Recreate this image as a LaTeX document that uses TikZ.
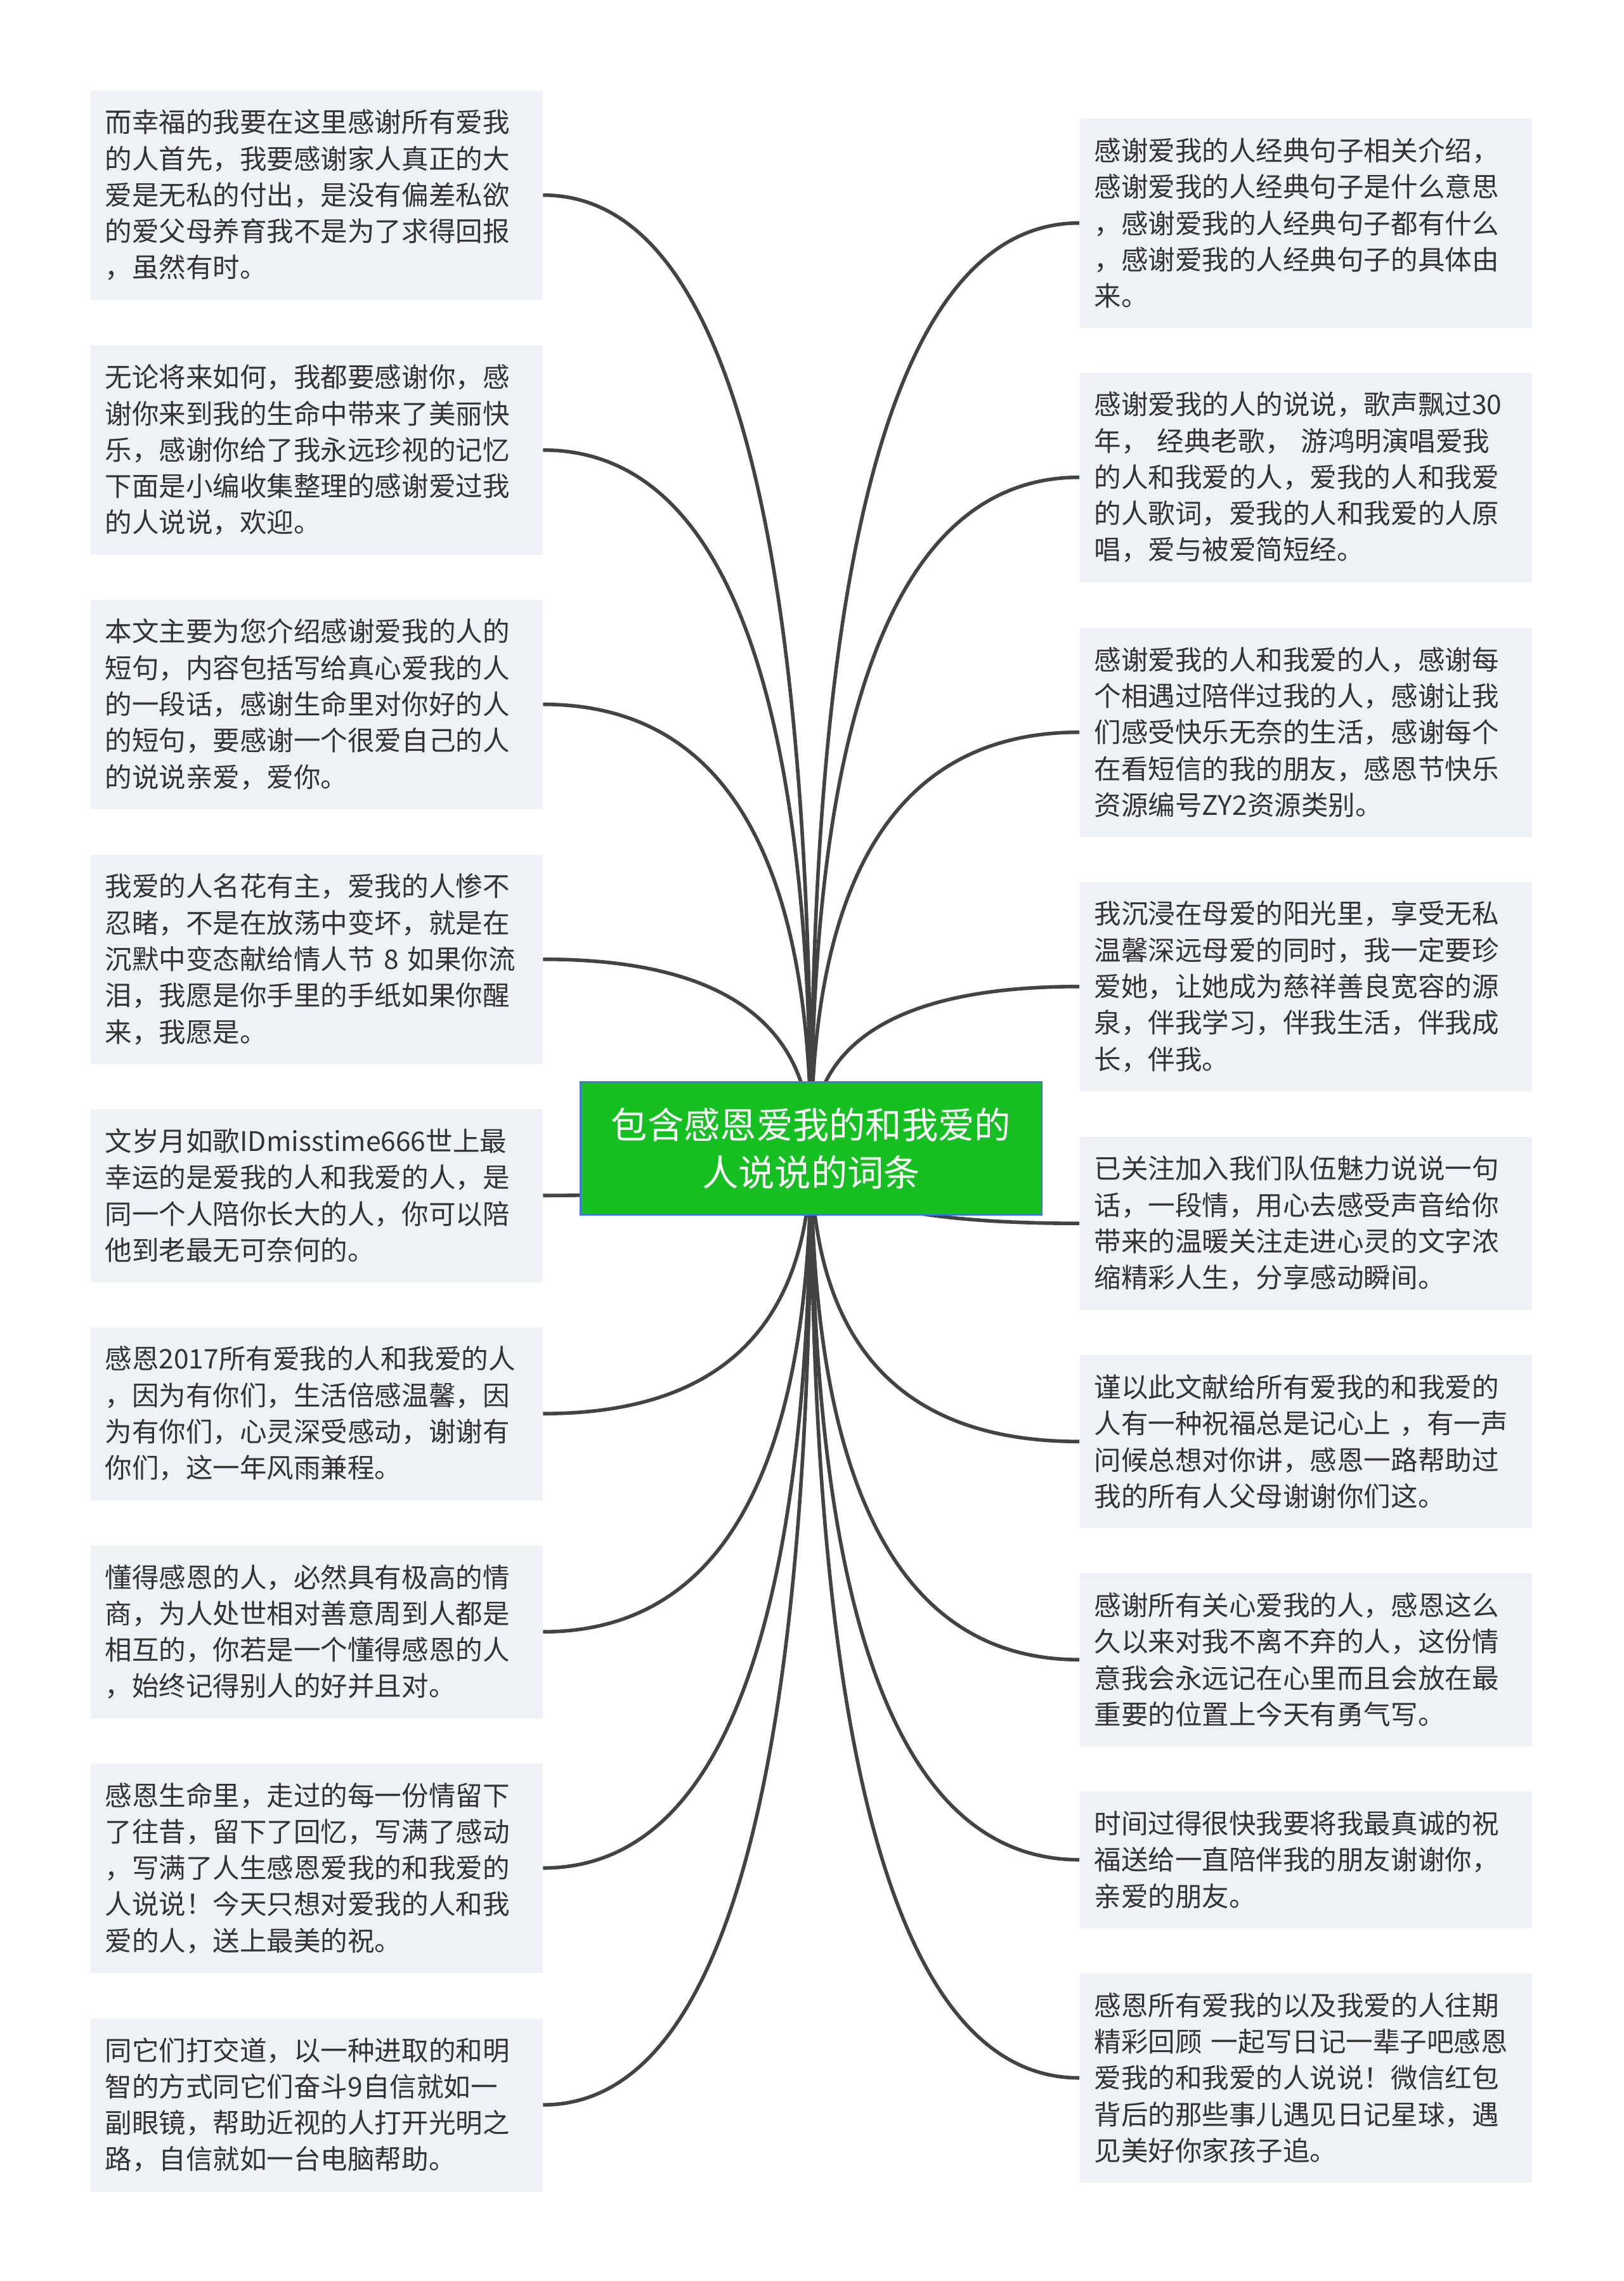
\documentclass[tikz,border=0pt]{standalone}
\usepackage{fontspec}
\setmainfont{Noto Sans CJK SC}
\usepackage{tikz}
\usetikzlibrary{backgrounds,calc}
\definecolor{rootgreen}{RGB}{22,192,34}
\definecolor{rootedge}{RGB}{60,125,210}
\definecolor{leafgray}{RGB}{238,241,245}
\definecolor{inkgray}{RGB}{51,51,51}
\definecolor{linkgray}{RGB}{66,68,66}
\tikzset{
    root/.style={rectangle, draw=rootedge, line width=0.6pt, fill=rootgreen, text=white, minimum width=7.27cm, minimum height=2.09cm, inner sep=0pt, align=center, font=\fontsize{16.3}{21.5}\selectfont},
    leaf/.style={rectangle, fill=leafgray, text=inkgray, anchor=north west, minimum width=7.13cm, text width=6.67cm, inner xsep=0.23cm, inner ysep=0pt, align=left, font=\fontsize{12.1}{16.3}\selectfont},
    leaf5/.style={leaf, minimum height=3.30cm},
    leaf4/.style={leaf, minimum height=2.73cm},
    leaf3/.style={leaf, minimum height=2.16cm},
    link/.style={draw=linkgray, line width=1.6pt},
}

\begin{document}
\begin{tikzpicture}
    \useasboundingbox (0,0) rectangle (25.6,-35.97);

    \node[root] (root) at (12.79,-18.11) {包含感恩爱我的和我爱的\\人说说的词条};

    \node[leaf5] (l1) at (1.42,-1.42) {而幸福的我要在这里感谢所有爱我\\的人首先，我要感谢家人真正的大\\爱是无私的付出，是没有偏差私欲\\的爱父母养育我不是为了求得回报\\，虽然有时。};
    \node[leaf5] (l2) at (1.42,-5.44) {无论将来如何，我都要感谢你，感\\谢你来到我的生命中带来了美丽快\\乐，感谢你给了我永远珍视的记忆\\下面是小编收集整理的感谢爱过我\\的人说说，欢迎。};
    \node[leaf5] (l3) at (1.42,-9.45) {本文主要为您介绍感谢爱我的人的\\短句，内容包括写给真心爱我的人\\的一段话，感谢生命里对你好的人\\的短句，要感谢一个很爱自己的人\\的说说亲爱，爱你。};
    \node[leaf5] (l4) at (1.42,-13.47) {我爱的人名花有主，爱我的人惨不\\忍睹，不是在放荡中变坏，就是在\\沉默中变态献给情人节~8~如果你流\\泪，我愿是你手里的手纸如果你醒\\来，我愿是。};
    \node[leaf4] (l5) at (1.42,-17.48) {文岁月如歌IDmisstime666世上最\\幸运的是爱我的人和我爱的人，是\\同一个人陪你长大的人，你可以陪\\他到老最无可奈何的。};
    \node[leaf4] (l6) at (1.42,-20.92) {感恩2017所有爱我的人和我爱的人\\，因为有你们，生活倍感温馨，因\\为有你们，心灵深受感动，谢谢有\\你们，这一年风雨兼程。};
    \node[leaf4] (l7) at (1.42,-24.36) {懂得感恩的人，必然具有极高的情\\商，为人处世相对善意周到人都是\\相互的，你若是一个懂得感恩的人\\，始终记得别人的好并且对。};
    \node[leaf5] (l8) at (1.42,-27.80) {感恩生命里，走过的每一份情留下\\了往昔，留下了回忆，写满了感动\\，写满了人生感恩爱我的和我爱的\\人说说！今天只想对爱我的人和我\\爱的人，送上最美的祝。};
    \node[leaf4] (l9) at (1.42,-31.82) {同它们打交道，以一种进取的和明\\智的方式同它们奋斗9自信就如一\\副眼镜，帮助近视的人打开光明之\\路，自信就如一台电脑帮助。};

    \node[leaf5] (r1) at (17.02,-1.86) {感谢爱我的人经典句子相关介绍，\\感谢爱我的人经典句子是什么意思\\，感谢爱我的人经典句子都有什么\\，感谢爱我的人经典句子的具体由\\来。};
    \node[leaf5] (r2) at (17.02,-5.87) {感谢爱我的人的说说，歌声飘过30\\年，~经典老歌，~游鸿明演唱爱我\\的人和我爱的人，爱我的人和我爱\\的人歌词，爱我的人和我爱的人原\\唱，爱与被爱简短经。};
    \node[leaf5] (r3) at (17.02,-9.89) {感谢爱我的人和我爱的人，感谢每\\个相遇过陪伴过我的人，感谢让我\\们感受快乐无奈的生活，感谢每个\\在看短信的我的朋友，感恩节快乐\\资源编号ZY2资源类别。};
    \node[leaf5] (r4) at (17.02,-13.90) {我沉浸在母爱的阳光里，享受无私\\温馨深远母爱的同时，我一定要珍\\爱她，让她成为慈祥善良宽容的源\\泉，伴我学习，伴我生活，伴我成\\长，伴我。};
    \node[leaf4] (r5) at (17.02,-17.92) {已关注加入我们队伍魅力说说一句\\话，一段情，用心去感受声音给你\\带来的温暖关注走进心灵的文字浓\\缩精彩人生，分享感动瞬间。};
    \node[leaf4] (r6) at (17.02,-21.36) {谨以此文献给所有爱我的和我爱的\\人有一种祝福总是记心上~，有一声\\问候总想对你讲，感恩一路帮助过\\我的所有人父母谢谢你们这。};
    \node[leaf4] (r7) at (17.02,-24.80) {感谢所有关心爱我的人，感恩这么\\久以来对我不离不弃的人，这份情\\意我会永远记在心里而且会放在最\\重要的位置上今天有勇气写。};
    \node[leaf3] (r8) at (17.02,-28.24) {时间过得很快我要将我最真诚的祝\\福送给一直陪伴我的朋友谢谢你，\\亲爱的朋友。};
    \node[leaf5] (r9) at (17.02,-31.11) {感恩所有爱我的以及我爱的人往期\\精彩回顾~一起写日记一辈子吧感恩\\爱我的和我爱的人说说！微信红包\\背后的那些事儿遇见日记星球，遇\\见美好你家孩子追。};

    \begin{scope}[on background layer]
        \fill[white] (0,0) rectangle (25.6,-35.97);
        \foreach \i in {1,...,9}
            \draw[link] (l\i.east) .. controls ($(l\i.east)!2/3!(root.center |- l\i.east)$) and ($(root.center)!2/3!(root.center |- l\i.east)$) .. (root.center);
        \foreach \i in {1,...,9}
            \draw[link] (r\i.west) .. controls ($(r\i.west)!2/3!(root.center |- r\i.west)$) and ($(root.center)!2/3!(root.center |- r\i.west)$) .. (root.center);
    \end{scope}
\end{tikzpicture}
\end{document}
